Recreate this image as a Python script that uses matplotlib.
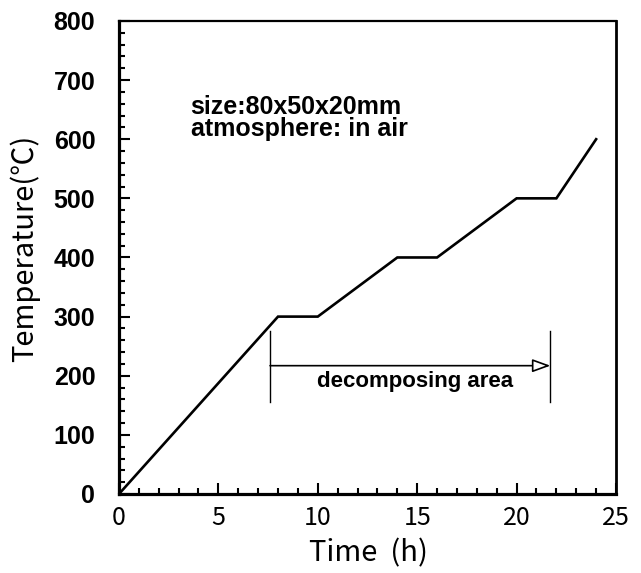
import numpy as np
import matplotlib.pyplot as plt
from matplotlib.ticker import MultipleLocator

# heating schedule
time_h = [0, 8, 10, 14, 16, 20, 22, 24]
temp_c = [0, 300, 300, 400, 400, 500, 500, 600]

# decomposing area marker
decomp_start = 7.6
decomp_end = 21.7
decomp_y = 217
decomp_bar = (156, 276)

x_ticks = [0, 5, 10, 15, 20, 25]
y_ticks = [0, 100, 200, 300, 400, 500, 600, 700, 800]

gothic = ['Noto Sans CJK JP', 'DejaVu Sans']

fig = plt.figure(figsize=(6.41, 5.73), dpi=100)
ax = fig.add_axes([0.1856, 0.1379, 0.961 - 0.1856, 0.9634 - 0.1379])

ax.plot(time_h, temp_c, color='black', lw=1.9, solid_joinstyle='miter')

ax.set_xlim(0, 25)
ax.set_ylim(0, 800)
ax.set_xticks(x_ticks)
ax.set_yticks(y_ticks)
ax.xaxis.set_minor_locator(MultipleLocator(1))
ax.yaxis.set_minor_locator(MultipleLocator(20))

ax.tick_params(which='both', direction='in', top=False, right=False, width=1.5)
ax.tick_params(which='major', length=8)
ax.tick_params(which='minor', length=4)
ax.tick_params(axis='y', pad=17)
ax.tick_params(axis='x', pad=8)

for lab in ax.get_yticklabels():
    lab.set_fontfamily('Liberation Sans')
    lab.set_fontweight('bold')
    lab.set_fontsize(18)
for lab in ax.get_xticklabels():
    lab.set_fontfamily(gothic)
    lab.set_fontsize(18)

for side in ['left', 'bottom']:
    ax.spines[side].set_linewidth(2.3)
ax.spines['right'].set_linewidth(2.0)
ax.spines['top'].set_linewidth(1.6)

# axis titles placed directly in figure coordinates
fig.text(0.575, 1 - 553 / 573, 'Time  (h)', family=gothic, fontsize=21,
         ha='center', va='center')
fig.text(25 / 641, 1 - 248 / 573, 'Temperature(℃)', family=gothic, fontsize=21,
         ha='center', va='center', rotation=90)

ax.text(3.6, 655, 'size:80x50x20mm', fontsize=18, fontweight='bold',
        family='Liberation Sans', va='center', ha='left')
ax.text(3.6, 617, 'atmosphere: in air', fontsize=18, fontweight='bold',
        family='Liberation Sans', va='center', ha='left')

ax.plot([decomp_start, decomp_start], decomp_bar, color='black', lw=1.0)
ax.plot([decomp_end, decomp_end], decomp_bar, color='black', lw=1.0)
ax.annotate('', xy=(decomp_end, decomp_y), xytext=(decomp_start, decomp_y),
            arrowprops=dict(arrowstyle='-|>,head_length=1.1,head_width=0.4',
                            fc='white', ec='black', lw=1.2, shrinkA=0, shrinkB=0))
ax.text(14.9, 190, 'decomposing area', fontsize=16, fontweight='bold',
        family='Liberation Sans', ha='center', va='center')

fig.savefig('out.png', dpi=100)
